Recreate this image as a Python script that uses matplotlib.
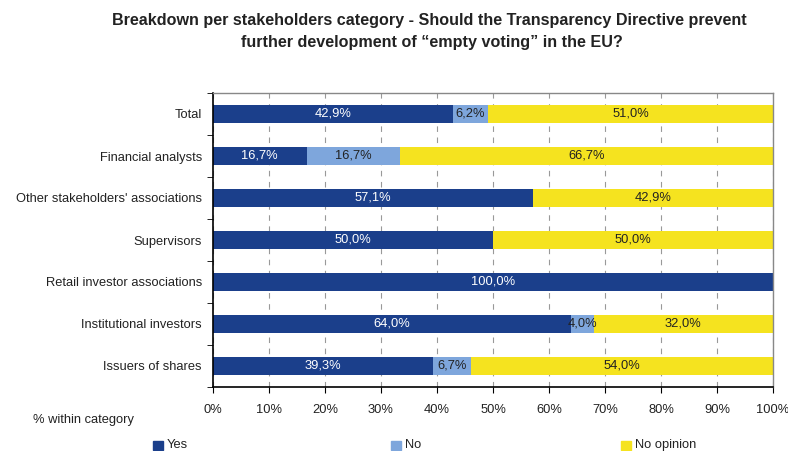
import matplotlib.pyplot as plt
import numpy as np
from matplotlib.patches import Rectangle

plt.rcParams['font.family'] = ['Liberation Sans', 'DejaVu Sans']

categories = ['Total', 'Financial analysts', "Other stakeholders' associations",
              'Supervisors', 'Retail investor associations', 'Institutional investors',
              'Issuers of shares']
yes = [42.9, 16.7, 57.1, 50.0, 100.0, 64.0, 39.3]
no = [6.2, 16.7, 0.0, 0.0, 0.0, 4.0, 6.7]
no_opinion = [51.0, 66.7, 42.9, 50.0, 0.0, 32.0, 54.0]
series_names = ['Yes', 'No', 'No opinion']
colors = ['#1b3f8b', '#7ea6dc', '#f5e31f']
text_colors = ['white', '#222222', '#222222']
fs = 9.3

fig = plt.figure(figsize=(7.88, 4.51), dpi=100)
ax = fig.add_axes([213 / 788, 1 - 387 / 451, 560 / 788, 294 / 451])

y = np.arange(len(categories))
left = np.zeros(len(categories))
for vals, col, tcol in zip([yes, no, no_opinion], colors, text_colors):
    vals = np.array(vals)
    ax.barh(y, vals, left=left, height=0.41, color=col, zorder=2)
    for yi, l, v in zip(y, left, vals):
        if v > 0:
            ax.text(l + v / 2, yi, f'{v:.1f}%'.replace('.', ','), ha='center', va='center',
                    color=tcol, fontsize=fs, zorder=3)
    left = left + vals

ax.set_xlim(0, 100)
ax.set_ylim(len(categories) - 0.5, -0.5)
ax.set_xticks(np.arange(0, 101, 10))
ax.set_xticklabels([f'{v}%' for v in range(0, 101, 10)], fontsize=fs, color='#222222')
ax.set_yticks(y)
ax.set_yticklabels(categories, fontsize=fs, color='#222222')
ax.tick_params(axis='y', length=0, pad=8)
ax.tick_params(axis='x', length=4, direction='out', pad=8)
# tick marks between categories on the left axis
ax.set_yticks(np.arange(-0.5, len(categories)), minor=True)
ax.tick_params(axis='y', which='minor', length=4, direction='out')
ax.xaxis.grid(True, linestyle=(0, (5, 5)), color='#999999', linewidth=0.8, zorder=1)
for side in ['left', 'bottom']:
    ax.spines[side].set_color('black')
    ax.spines[side].set_linewidth(1.2)
for side in ['top', 'right']:
    ax.spines[side].set_color('#888888')
    ax.spines[side].set_linewidth(1.0)

fig.text(429 / 788, 1 - 20 / 451, 'Breakdown per stakeholders category - Should the Transparency Directive prevent',
         ha='center', va='center', fontsize=11.6, fontweight='bold', color='#222222')
fig.text(432 / 788, 1 - 43 / 451, 'further development of \u201cempty voting\u201d in the EU?',
         ha='center', va='center', fontsize=11.6, fontweight='bold', color='#222222')
fig.text(33 / 788, 1 - 420 / 451, '% within category', ha='left', va='center',
         fontsize=fs, color='#222222')

# legend row along the bottom
legend_x = [153, 391, 621]
for name, col, lx in zip(series_names, colors, legend_x):
    fig.patches.append(Rectangle((lx / 788, 1 - 450 / 451), 10 / 788, 9 / 451,
                                 transform=fig.transFigure, color=col, figure=fig))
    fig.text((lx + 14) / 788, 1 - 445 / 451, name, ha='left', va='center',
             fontsize=fs, color='#222222')

fig.savefig('out.png', dpi=100)
